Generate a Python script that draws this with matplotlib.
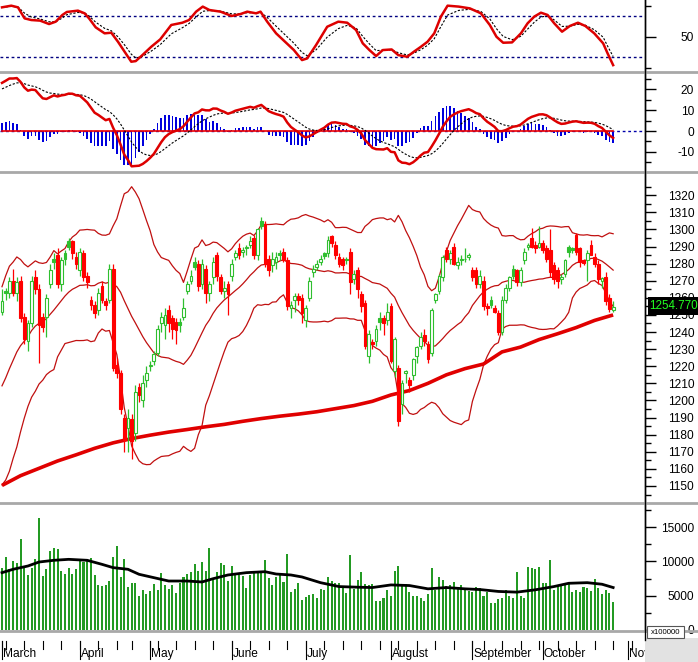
import numpy as np
import pandas as pd
import matplotlib
matplotlib.use("Agg")
import matplotlib.pyplot as plt
from matplotlib.patches import Rectangle

plt.rcParams['font.family'] = ['Liberation Sans', 'DejaVu Sans']

# ---------------- data ----------------
holidays = ['2024-04-18', '2024-04-29', '2024-04-30', '2024-05-01', '2024-09-02', '2024-09-03']
cal = pd.bdate_range('2024-03-01', '2024-11-29')
cal = cal[~cal.isin(pd.to_datetime(holidays))]
N_BARS = 166
dates = cal[:N_BARS]

opens = [1252,1264,1263,1270,1263,1270,1249,1235,1245,1272,1265,1249,1249,1268,1283,1285,1268,1286,1293,1293,
         1284,1276,1286,1273,1259,1256,1253,1267,1258,1259,1277,1221,1216,1190,1184,1189,1181,1208,1200,1212,
         1220,1223,1228,1245,1244,1253,1248,1246,1246,1249,1264,1270,1281,1280,1268,1277,1263,1272,1285,1272,
         1264,1268,1273,1284,1289,1287,1289,1291,1295,1285,1305,1303,1283,1279,1281,1286,1287,1282,1254,1259,
         1261,1260,1247,1260,1275,1278,1281,1286,1286,1296,1291,1284,1283,1283,1287,1271,1276,1262,1257,1226,
         1234,1235,1248,1248,1247,1255,1217,1219,1198,1216,1212,1215,1226,1232,1238,1233,1228,1259,1264,1272,
         1288,1283,1290,1279,1283,1283,1284,1276,1276,1268,1270,1255,1259,1254,1251,1240,1259,1266,1277,1276,
         1269,1282,1290,1295,1291,1290,1292,1289,1288,1279,1276,1271,1274,1290,1289,1297,1289,1282,1282,1291,
         1284,1280,1270,1272,1260,1253]
highs = [1265,1266,1272,1277,1272,1273,1251,1247,1273,1276,1268,1251,1262,1280,1286,1289,1284,1288,1295,1294,
         1287,1289,1288,1275,1261,1258,1266,1270,1260,1280,1280,1225,1218,1192,1195,1192,1209,1210,1215,1220,
         1223,1229,1244,1252,1254,1256,1250,1248,1248,1260,1270,1276,1284,1282,1283,1279,1270,1284,1287,1274,
         1270,1270,1283,1288,1292,1290,1291,1296,1297,1301,1307,1305,1285,1287,1287,1288,1289,1284,1258,1263,
         1263,1262,1256,1272,1279,1282,1285,1287,1296,1297,1293,1286,1284,1284,1289,1276,1278,1264,1259,1241,
         1236,1244,1252,1250,1257,1257,1237,1221,1212,1218,1214,1225,1232,1240,1242,1235,1254,1263,1274,1285,
         1290,1288,1292,1284,1285,1289,1286,1278,1278,1276,1273,1257,1261,1256,1253,1261,1268,1273,1279,1277,
         1278,1289,1292,1301,1293,1302,1294,1291,1300,1281,1278,1274,1283,1291,1290,1298,1290,1283,1288,1294,
         1286,1282,1272,1275,1262,1258]
lows = [1250,1259,1260,1261,1258,1246,1233,1229,1243,1262,1222,1240,1237,1266,1277,1266,1264,1279,1288,1283,
        1277,1273,1270,1266,1253,1248,1250,1257,1253,1257,1217,1213,1192,1170,1170,1166,1176,1199,1196,1208,
        1217,1221,1226,1240,1236,1240,1236,1233,1240,1247,1262,1268,1276,1264,1265,1257,1258,1268,1270,1262,
        1260,1250,1270,1282,1283,1284,1285,1289,1283,1282,1300,1278,1273,1275,1277,1282,1281,1253,1248,1252,
        1256,1245,1243,1258,1272,1276,1279,1283,1284,1290,1283,1278,1276,1280,1262,1268,1260,1252,1230,1222,
        1230,1232,1241,1238,1244,1222,1214,1185,1192,1210,1205,1212,1222,1230,1232,1222,1226,1257,1262,1270,
        1281,1280,1279,1277,1279,1281,1282,1270,1266,1266,1253,1250,1254,1251,1238,1238,1257,1264,1271,1267,
        1267,1280,1288,1289,1286,1289,1286,1281,1272,1268,1266,1268,1272,1284,1286,1285,1278,1279,1270,1285,
        1278,1268,1266,1256,1252,1252]
closes = [1258,1263,1270,1263,1269,1248,1236,1245,1270,1265,1244,1243,1260,1276,1281,1268,1282,1283,1290,1286,
          1280,1287,1272,1269,1256,1251,1263,1259,1256,1277,1219,1216,1195,1177,1190,1176,1205,1203,1210,1216,
          1221,1227,1242,1249,1250,1245,1242,1241,1244,1254,1268,1273,1278,1267,1280,1263,1268,1281,1273,1264,
          1266,1262,1280,1286,1285,1288,1290,1293,1285,1300,1302,1280,1276,1283,1284,1285,1282,1255,1256,1261,
          1259,1251,1254,1270,1277,1280,1283,1284.5,1294,1292,1285,1280,1279,1282,1269,1274,1265,1255,1232,1239,
          1233,1242,1246,1245,1252,1223,1236,1188,1210,1217,1209,1224,1231,1237,1235,1224,1253,1262,1273,1284,
          1283,1286,1280,1281,1282,1282.5,1285,1272,1268,1273,1255,1254,1256,1252,1240,1259,1266,1272,1273,1269,
          1276,1287,1291,1290,1289,1292,1288,1283,1275,1271,1270,1272,1282,1287,1288,1287,1281,1280.5,1286,1285,
          1280,1271,1271.5,1258,1253.5,1254.77]
volumes = [9090,10640,8940,10060,9720,13220,9190,8020,9090,10300,16380,7870,8850,11520,11960,11810,8600,8120,9090,8120,
           8850,10300,9960,10300,10450,8020,6560,6420,6560,7140,10640,12250,7780,10400,6270,6900,6900,4960,5830,5200,
           5690,6660,5830,8360,6510,6030,6560,5440,6800,7780,8120,8500,9570,8600,9910,8600,12000,7480,8460,9820,
           9430,7140,9330,7970,7970,7870,6170,7970,8460,8360,8600,10200,7630,6610,7730,8360,7000,11130,5540,5930,
           6800,4330,4810,5050,5200,4710,5930,5900,7700,7100,6800,6800,6200,5400,10900,6000,7300,8500,6700,6600,
           6700,4200,4300,4600,5800,5000,8600,9400,6500,6700,5600,4900,4900,4700,4300,5200,9100,5800,7700,7300,
           6400,6600,7000,6200,6600,6000,5700,5500,6300,6100,4900,5500,4000,4000,4500,4600,5900,4900,4700,8500,
           5000,4700,9200,9000,8900,9200,6800,6900,10200,5900,6500,6600,6900,6700,5600,5900,5500,6200,6100,5700,
           7400,6100,5300,5900,5400,4100]

# closes before the visible window (Dec 2023 - Feb 2024), only used to warm up the indicators
prior_closes = [1093,1102,1108,1103,1111,1118,1113,1120,1124,1118,1108,1104,1100,1103,1092,1095,1102,1097,1091,1096,
                1105,1110,1120,1126,1130,1132,1140,1145,1153,1154,1160,1162,1154,1162,1173,1168,1175,1177,1169,1163,
                1174,1170,1164,1178,1170,1163,1164,1172,1175,1183,1192,1198,1213,1213,1224,1222,1227,1231,1213,1226,
                1230,1245,1252]

# oscillator of the top panel (bar position, value)
osc_idx = [0,2.5,4.3,6.1,7.9,10.3,12.7,14.5,16.3,17.5,20.5,22.3,23.5,25.3,27.7,29.5,31.3,33.1,34.9,36.1,
           37.9,40.3,42.7,45.7,48.7,50.5,52.4,54.2,56,59,62,64.4,66.2,68.6,69.8,71.6,74,76.4,78.8,81,
           82.4,84.8,87.8,90.8,93.2,95.6,97.4,99.2,101,102.8,105.2,107,109.4,111.2,113.1,114.9,116.7,118.5,120.3,123.3,
           126.3,129.3,131.7,133.5,135.3,137.7,140.1,141.9,143.7,145.5,147.3,149.1,151.2,153.3,155.5,157.5,159.9,162.3,163.5,165]
osc_val = [78.4,80.0,78.4,67.7,66.1,65.5,62.2,64.5,71.0,73.9,75.2,72.6,67.7,59.0,53.2,53.8,45.1,35.4,25.7,26.3,
           32.1,40.2,47.3,61.3,63.5,66.1,74.2,79.1,75.8,74.2,70.0,71.9,74.2,72.6,74.2,64.5,53.2,45.1,37.0,27.3,
           28.9,41.9,59.6,64.5,63.5,56.4,43.5,37.0,31.2,37.0,37.6,32.1,30.5,35.4,40.2,45.1,53.2,69.4,80.0,79.1,
           77.4,72.6,61.3,49.9,44.1,44.4,53.2,62.9,69.4,73.2,71.0,62.9,54.8,60.3,63.5,60.3,53.2,43.5,33.8,22.4]

# 200-day moving average
ma200_idx = [0,5,10,15,20,25,30,35,40,45,50,55,60,65,70,75,80,85,90,95,100,105,110,115,120,125,130,135,140,145,150,155,160,165]
ma200_val = [1150.3,1156,1160.3,1164.6,1168.2,1172,1175.2,1177.7,1179.7,1181.5,1183,1184.6,1186,1187.8,1189.4,1190.8,1192,
             1193.4,1195.2,1197,1199.5,1203.2,1205.8,1210,1215,1218.6,1221.3,1228.4,1231.2,1235.6,1239,1242.6,1246.8,1250]

# volume moving average
vma_idx = [0,3,7,10,14,18,23,27,30,34,37,41,45,50,54,57,61,66,71,74,78,81,86,91,96,100,105,110,115,120,125,129,134,139,144,149,153,158,162,165]
vma_val = [8360,8850,9330,9910,10160,10300,10160,9570,9090,8850,8120,7630,7140,7140,7000,7480,8020,8360,8500,8160,
           8020,7730,6900,6330,6240,6190,6570,6480,6000,6190,6000,5900,5620,5520,5860,6330,6810,6900,6670,6190]

last_price_label = "1254.770"
month_names = ['March', 'April', 'May', 'June', 'July', 'August', 'September', 'October', 'November']

# ---------------- indicators ----------------
c_all = pd.Series(prior_closes + closes, dtype=float)
n_prior = len(prior_closes)
mid = c_all.rolling(20).mean()
sd = c_all.rolling(20).std(ddof=0)
bb_mid = mid.values[n_prior:]
bb_up = (mid + 2 * sd).values[n_prior:]
bb_lo = (mid - 2 * sd).values[n_prior:]

osc = pd.Series(osc_val, dtype=float)
osc_sig = osc.ewm(alpha=0.55, adjust=False).mean().values

ema12 = c_all.ewm(span=12, adjust=False).mean()
ema26 = c_all.ewm(span=26, adjust=False).mean()
macd_all = ema12 - ema26
sig_all = macd_all.ewm(span=9, adjust=False).mean()
macd = macd_all.values[n_prior:]
macd_sig = sig_all.values[n_prior:]
hist = (macd - macd_sig) * 1.4

x = np.arange(N_BARS)
o = np.array(opens, float); h = np.array(highs, float); l = np.array(lows, float); c = np.array(closes, float)
prev = np.concatenate([[prior_closes[-1]], c[:-1]])

# ---------------- figure ----------------
W, H = 698, 662
fig = plt.figure(figsize=(W / 100, H / 100), dpi=100)
fig.patch.set_facecolor('white')
AXW = 645 / W

def add_ax(top, bottom):
    return fig.add_axes([0, 1 - bottom / H, AXW, (bottom - top) / H])

ax_r = add_ax(0, 70.7)
ax_m = add_ax(73.5, 170)
ax_p = add_ax(173, 501)
ax_v = add_ax(505, 630)
ax_d = add_ax(632, 662)

XL = (-0.54, 173.6)
for ax in (ax_r, ax_m, ax_p, ax_v, ax_d):
    ax.set_xlim(*XL)
    ax.set_facecolor('white')
    for s in ('top', 'left', 'bottom'):
        ax.spines[s].set_visible(False)
    ax.spines['right'].set_color('black')
    ax.spines['right'].set_linewidth(1)
    ax.set_xticks([])

def right_axis(ax, major, minor, labels):
    ax.yaxis.tick_right()
    ax.set_yticks(major)
    ax.set_yticklabels(labels)
    ax.set_yticks(minor, minor=True)
    ax.tick_params(axis='y', which='major', direction='out', length=8, width=1, labelsize=8.6, pad=27.4)
    ax.tick_params(axis='y', which='minor', direction='out', length=4, width=1)
    for lab in ax.get_yticklabels():
        lab.set_horizontalalignment('right')

# oscillator panel
ax_r.set_ylim(17, 85.5)
for lvl in (70, 30):
    ax_r.axhline(lvl, color='#000080', lw=1, ls=(0, (2, 2)))
ax_r.plot(osc_idx, osc_sig, color='black', lw=0.8, ls=(0, (2, 1.5)))
ax_r.plot(osc_idx, osc_val, color='#dd0000', lw=1.8)
right_axis(ax_r, [50], [20, 80], ['50'])

# MACD panel
ax_m.set_ylim(-18.7, 27.6)
ax_m.axhline(0, color='#0000aa', lw=1, ls=(0, (2, 2)))
ax_m.bar(x, hist, width=0.45, color='#0000dd', zorder=2)
ax_m.plot([x[0], x[-1]], [0, 0], color='#ee0000', lw=1.2, zorder=3)
ax_m.plot(x, macd_sig, color='black', lw=0.8, ls=(0, (2, 1.5)), zorder=3)
ax_m.plot(x, macd, color='#dd0000', lw=1.8, zorder=4)
right_axis(ax_m, [-10, 0, 10, 20], [-15, -5, 5, 15, 25], ['-10', '0', '10', '20'])

# Price panel
ax_p.set_ylim(1141.2, 1333)
ax_p.plot(x, bb_up, color='#c01010', lw=0.9, zorder=2)
ax_p.plot(x, bb_mid, color='#c01010', lw=0.9, zorder=2)
ax_p.plot(x, bb_lo, color='#c01010', lw=0.9, zorder=2)
ax_p.plot(ma200_idx, ma200_val, color='#e00000', lw=2.6, zorder=3, solid_capstyle='butt')
GREEN = '#2fbf2f'
RED = '#ff0000'
for i in range(N_BARS):
    up = c[i] >= prev[i]
    col = GREEN if up else RED
    ax_p.vlines(x[i], l[i], h[i], color=col, lw=0.9, zorder=4)
    bottom = min(o[i], c[i])
    height = max(abs(c[i] - o[i]), 0.5)
    hollow = c[i] > o[i]
    ax_p.bar(x[i], height, bottom=bottom, width=0.75,
             facecolor='white' if hollow else col, edgecolor=col, linewidth=0.8, zorder=5)
right_axis(ax_p, list(range(1150, 1321, 10)), list(range(1145, 1331, 10)),
           [str(v) for v in range(1150, 1321, 10)])

# Volume panel
ax_v.set_ylim(0, 18221)
ax_v.bar(x, volumes, width=0.55, color='#239a23', zorder=2)
ax_v.plot(vma_idx, vma_val, color='black', lw=2, zorder=3)
right_axis(ax_v, [0, 5000, 10000, 15000], [2500, 7500, 12500, 17500], ['0', '5000', '10000', '15000'])

# Date strip
ax_d.set_ylim(0, 1)
ax_d.set_yticks([])
ax_d.spines['right'].set_visible(False)
pos = {d: i for i, d in enumerate(cal)}
month_starts = []
for (yr, mo), grp in pd.Series(cal).groupby([cal.year, cal.month]):
    month_starts.append(pos[grp.iloc[0]])
week_starts = []
for _, grp in pd.Series(cal).groupby(cal.to_period('W')):
    week_starts.append(pos[grp.iloc[0]])
for wi in week_starts:
    if wi <= 172:
        ax_d.plot([wi, wi], [0.69, 0.45], color='black', lw=0.8)
for k, mi in enumerate(month_starts[:9]):
    ax_d.plot([mi, mi], [0.69, 0.1], color='black', lw=0.8)
    ax_d.text(mi + 0.3, 0.28, month_names[k], fontsize=8.6, ha='left', va='center', clip_on=True)

# separators and right decorations
for yy in (71.5, 172, 503, 631):
    fig.add_artist(plt.Line2D([0, 1], [1 - yy / H, 1 - yy / H], color='#a8a8a8', lw=2))
fig.add_artist(plt.Line2D([AXW, AXW], [1 - 640 / H, 1], color='black', lw=1))
fig.add_artist(Rectangle((AXW, 0), 1 - AXW, 24 / H, facecolor='#e2e2e2', edgecolor='none'))

# last price box
yp = 1 - (194.3 + (1320 - 1254.77) * 1.71) / H
fig.add_artist(Rectangle((648 / W, yp - 9 / H), 50 / W, 18 / H, facecolor='black', edgecolor='none', zorder=10))
fig.text(673 / W, yp, last_price_label, color='#22ff22', fontsize=8.4, ha='center', va='center', zorder=11)

# volume unit box (sits left of the "0" label)
fig.add_artist(Rectangle((647 / W, 1 - 638 / H), 37 / W, 12 / H, facecolor='white', edgecolor='#555555', lw=0.8, zorder=10))
fig.text(665.5 / W, 1 - 632 / H, 'x100000', fontsize=5.6, ha='center', va='center', zorder=11)

fig.savefig('out.png', dpi=100)
